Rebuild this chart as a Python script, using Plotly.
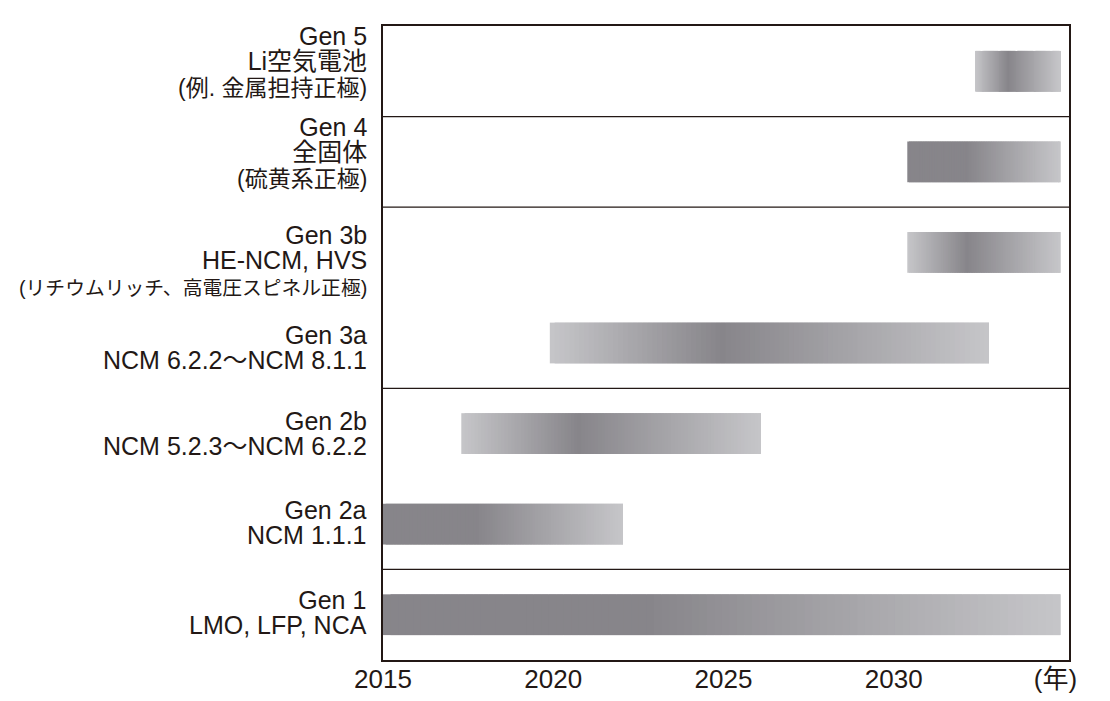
import numpy as np
import plotly.graph_objects as go

# ---------------- data ----------------
generations = ["Gen 1", "Gen 2a", "Gen 2b", "Gen 3a", "Gen 3b", "Gen 4", "Gen 5"]
materials = ["LMO, LFP, NCA", "NCM 1.1.1", "NCM 5.2.3〜NCM 6.2.2",
             "NCM 6.2.2〜NCM 8.1.1", "HE-NCM, HVS", "全固体", "Li空気電池"]
notes = ["", "", "", "", "(リチウムリッチ、高電圧スピネル正極)",
         "(硫黄系正極)", "(例. 金属担持正極)"]
start_year = [2015.0, 2015.0, 2017.3, 2019.9, 2030.4, 2030.4, 2032.4]
end_year = [2034.9, 2022.05, 2026.1, 2032.8, 2034.9, 2034.9, 2034.9]
group = [1, 2, 2, 3, 3, 4, 5]          # framed boxes separated by rules
year_ticks = [2015, 2020, 2025, 2030]
year_tick_labels = ["2015", "2020", "2025", "2030"]
unit_label = "(年)"

# ---------------- style ----------------
INK = "#231815"
DARK = np.array([135, 133, 138])
LIGHT = np.array([198, 198, 201])
GRADIENT = ["fade", "fade", "peak", "peak", "peak", "fade", "peak"]
PEAK_AT = 0.39
N_SEG = 90
BAR_WIDTH = 0.45
X_MAX = 2035.15
UNIT_AT = 2034.75
LATIN = "Liberation Sans, Noto Sans CJK JP, sans-serif"
MAIN_SIZE = 25
NOTE_SIZES = [20, 20, 20, 20, 19.8, 23, 23]
LINE_BASE = 19.5          # sets line pitch (1.3 x this)
LABEL_NUDGE = [-2, -1.7, 0, 4, 8, -9.5, -9.7]   # px, downward


def shade(t, kind):
    if kind == "peak" and t < PEAK_AT:
        c = LIGHT + (DARK - LIGHT) * (t / PEAK_AT)
    elif t < PEAK_AT:
        c = DARK
    else:
        c = DARK + (LIGHT - DARK) * ((t - PEAK_AT) / (1 - PEAK_AT))
    c = np.round(c).astype(int)
    return f"rgb({c[0]},{c[1]},{c[2]})"


fig = go.Figure()

ys, bases, widths, colors = [], [], [], []
for k in range(len(generations)):
    edges = np.linspace(start_year[k], end_year[k], N_SEG + 1)
    for j in range(N_SEG):
        t = (j + 0.5) / N_SEG
        stop = edges[min(j + 2, N_SEG)]      # overlap next segment to hide seams
        ys.append(k)
        bases.append(edges[j])
        widths.append(stop - edges[j])
        colors.append(shade(t, GRADIENT[k]))

fig.add_trace(go.Bar(
    y=ys, x=widths, base=bases, orientation="h", width=BAR_WIDTH,
    marker=dict(color=colors, line=dict(width=0)),
    hoverinfo="skip", showlegend=False,
))

# horizontal rules between groups
shapes = []
for k in range(len(group) - 1):
    if group[k] != group[k + 1]:
        shapes.append(dict(type="line", xref="paper", x0=0, x1=1,
                           yref="y", y0=k + 0.5, y1=k + 0.5,
                           line=dict(color=INK, width=1.3)))

# category labels
annotations = []
for k in range(len(generations)):
    parts = [f"<span style='font-size:{MAIN_SIZE}px'>{generations[k]}</span>",
             f"<span style='font-size:{MAIN_SIZE}px'>{materials[k]}</span>"]
    if notes[k]:
        parts.append(f"<span style='font-size:{NOTE_SIZES[k]}px'>{notes[k]}</span>")
    annotations.append(dict(
        xref="paper", x=0, xanchor="right", xshift=-14, align="right",
        yref="y", y=k, yanchor="middle", yshift=-LABEL_NUDGE[k],
        text="<br>".join(parts), showarrow=False,
        font=dict(family=LATIN, size=LINE_BASE, color=INK),
    ))

fig.update_layout(
    width=1110, height=701,
    margin=dict(l=383, r=41, t=26, b=41, autoexpand=False),
    paper_bgcolor="white", plot_bgcolor="white",
    barmode="overlay",
    shapes=shapes, annotations=annotations,
    font=dict(family=LATIN, color=INK),
    xaxis=dict(range=[2015, X_MAX], automargin=False,
               tickvals=year_ticks + [UNIT_AT],
               ticktext=year_tick_labels + [unit_label],
               tickfont=dict(family=LATIN, size=26, color=INK),
               ticklabelstandoff=-5,
               showgrid=False, zeroline=False, ticks="",
               showline=True, mirror=True, linecolor=INK, linewidth=1.5),
    yaxis=dict(range=[-0.5, len(generations) - 0.5], automargin=False,
               showticklabels=False, showgrid=False, zeroline=False, ticks="",
               showline=True, mirror=True, linecolor=INK, linewidth=1.5),
)

fig.write_html("out.html")
